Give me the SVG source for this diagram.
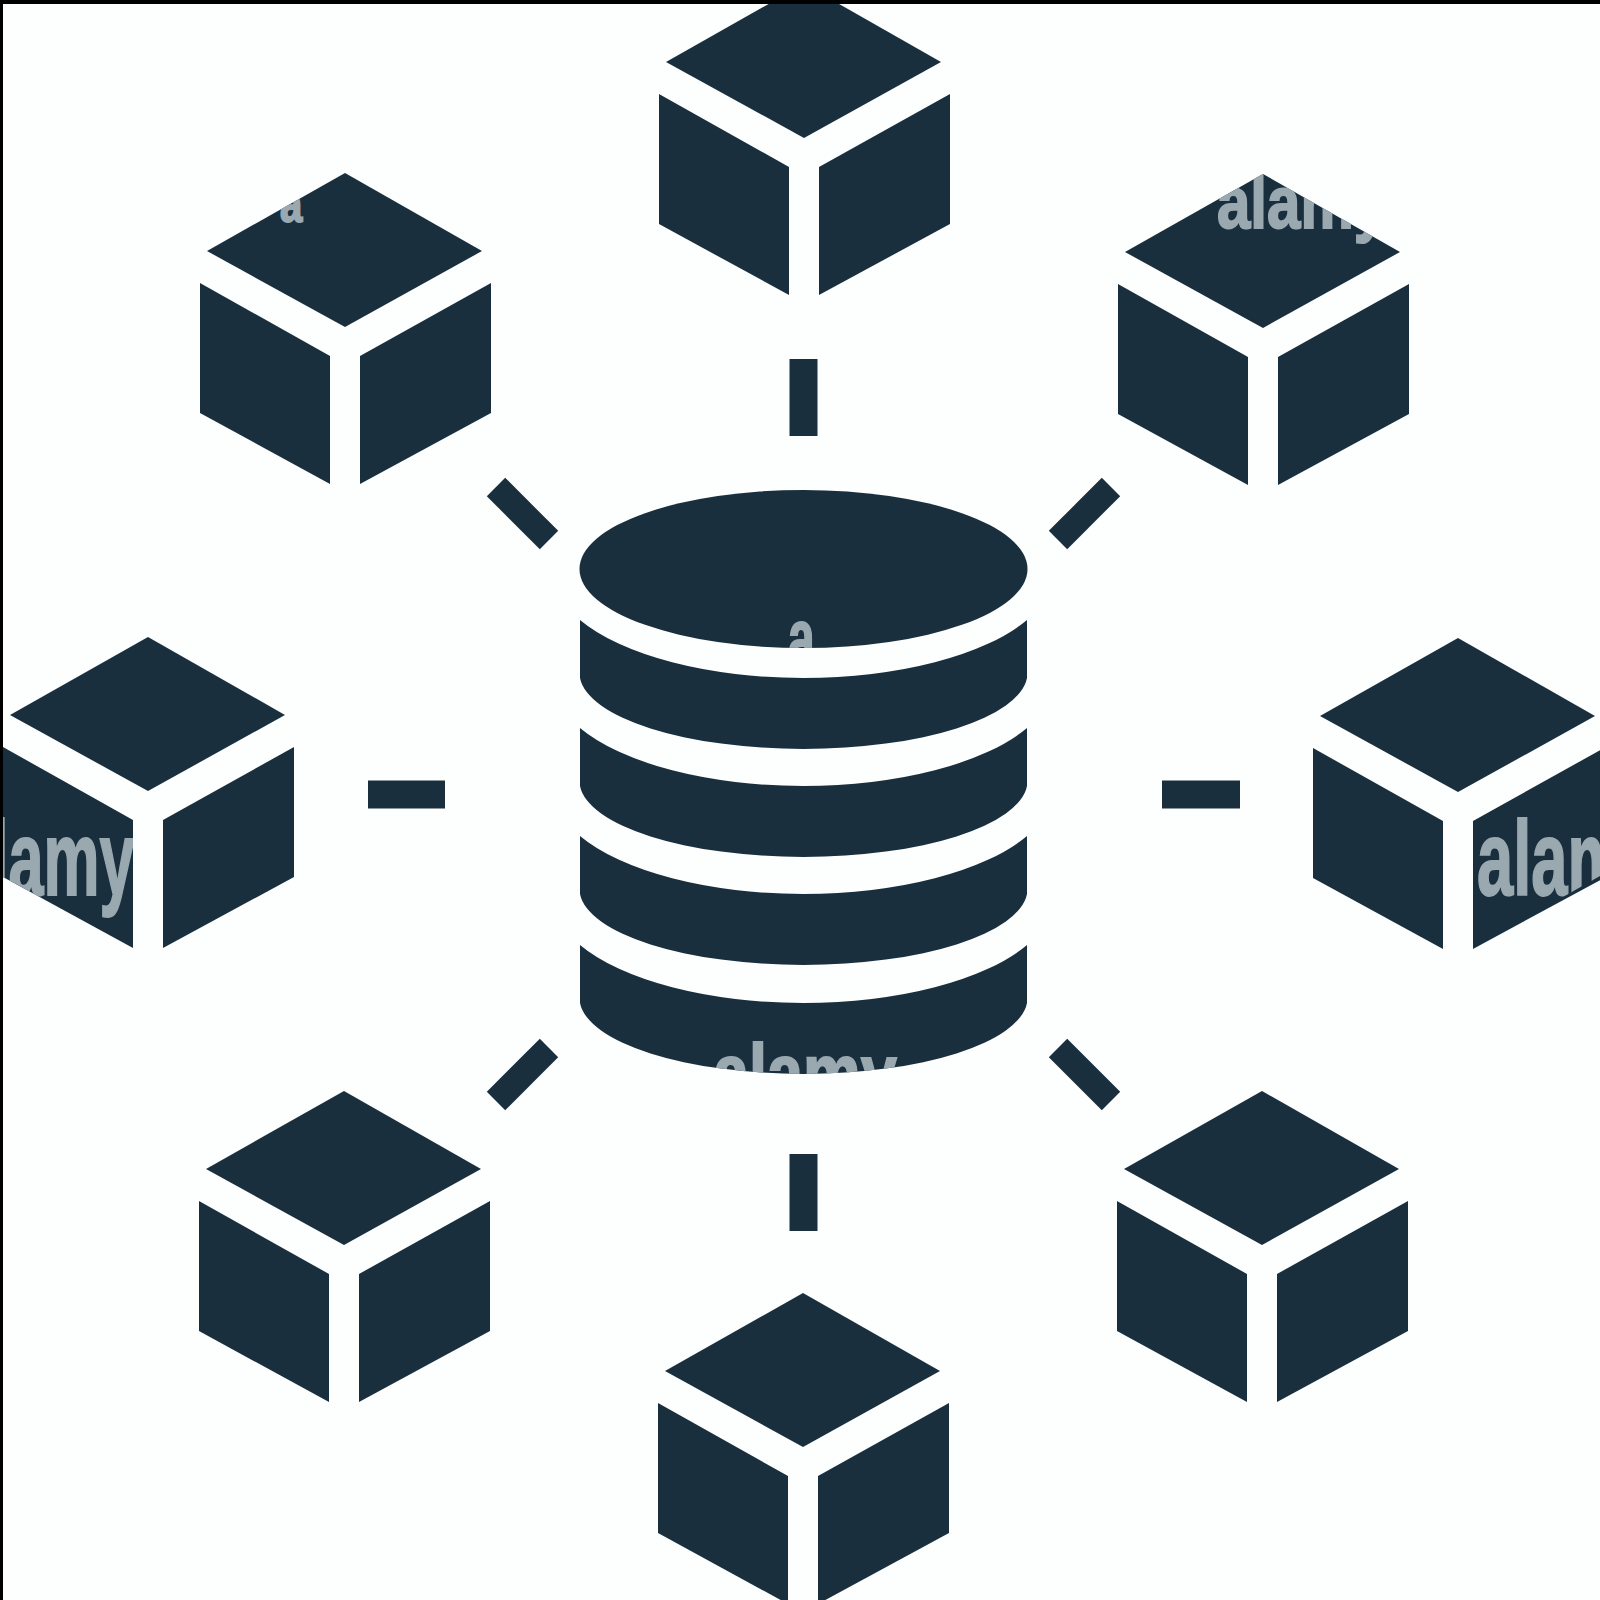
<svg xmlns="http://www.w3.org/2000/svg" width="1600" height="1600" viewBox="0 0 1600 1600">
<style>
.f{fill:#1a2f3e}
.c{stroke:#1a2f3e;stroke-width:28;fill:none}
.d{stroke-width:26}
.w{font-family:"Liberation Sans",Arial,sans-serif;font-weight:700;fill:#9aa8b0;stroke:#9aa8b0;stroke-width:2}
</style>
<defs>
<g id="cube" class="f">
<polygon points="0,0 137,78 0,154 -138,78"/>
<polygon points="-145,110 -15,183 -15,311 -145,240"/>
<polygon points="15,183 146,110 146,240 15,311"/>
</g>
<clipPath id="clipLeft"><polygon points="3,748 133,820 133,948 3,877"/></clipPath>
<clipPath id="clipRight"><polygon points="1473,820 1600,748 1600,876 1473,948"/></clipPath>
<clipPath id="clipTR"><polygon points="1263,174 1400,252 1263,328 1125,252"/></clipPath>
<clipPath id="clipTL"><polygon points="345,173 482,251 345,327 207,251"/></clipPath>
<clipPath id="clipTop"><ellipse cx="803.500" cy="569" rx="224" ry="79"/></clipPath>
<clipPath id="clipBottom"><path d="M580 945A250 105 0 0 0 1027 945V1003A224 76 0 0 1 580 1003Z"/></clipPath>
</defs>
<rect width="1600" height="1600" fill="#fdfefe"/>
<g id="connectors">
<line class="c" x1="803.500" y1="359" x2="803.500" y2="436"/>
<line class="c" x1="803.500" y1="1154" x2="803.500" y2="1231"/>
<line class="c" x1="368" y1="794.500" x2="445" y2="794.500"/>
<line class="c" x1="1162" y1="794.500" x2="1240" y2="794.500"/>
<line class="c d" x1="496" y1="487" x2="549" y2="540"/>
<line class="c d" x1="1111" y1="487" x2="1058" y2="540"/>
<line class="c d" x1="496" y1="1101" x2="549" y2="1048"/>
<line class="c d" x1="1111" y1="1101" x2="1058" y2="1048"/>
</g>
<g id="database" class="f">
<ellipse cx="803.500" cy="569" rx="224" ry="79"/>
<path d="M580 620A250 105 0 0 0 1027 620V678A224 76 0 0 1 580 678Z"/>
<path d="M580 728A250 105 0 0 0 1027 728V786A224 76 0 0 1 580 786Z"/>
<path d="M580 836A250 105 0 0 0 1027 836V894A224 76 0 0 1 580 894Z"/>
<path d="M580 945A250 105 0 0 0 1027 945V1003A224 76 0 0 1 580 1003Z"/>
</g>
<g id="cube-top"><use href="#cube" transform="translate(804,-16)"/></g>
<g id="cube-top-left"><use href="#cube" transform="translate(345,173)"/></g>
<g id="cube-top-right"><use href="#cube" transform="translate(1263,174)"/></g>
<g id="cube-left"><use href="#cube" transform="translate(148,637)"/></g>
<g id="cube-right"><use href="#cube" transform="translate(1458,638)"/></g>
<g id="cube-bottom-left"><use href="#cube" transform="translate(344,1091)"/></g>
<g id="cube-bottom-right"><use href="#cube" transform="translate(1262,1091)"/></g>
<g id="cube-bottom"><use href="#cube" transform="translate(803,1293)"/></g>
<g id="watermarks" class="w">
<g clip-path="url(#clipLeft)"><text font-size="105" transform="translate(-9,895) scale(.6,1)">lamy</text></g>
<g clip-path="url(#clipRight)"><text font-size="105" transform="translate(1477,895) scale(.62,1)">alam</text></g>
<g clip-path="url(#clipTR)"><text font-size="75" transform="translate(1217,228) scale(.8,1)">alamy</text></g>
<g clip-path="url(#clipTL)"><text font-size="50" transform="translate(280,222) scale(.8,1)">a</text></g>
<g clip-path="url(#clipTop)"><text font-size="80" transform="translate(788,665) scale(.6,1)">a</text></g>
<g clip-path="url(#clipBottom)"><text font-size="80" transform="translate(713,1100) scale(.81,1)">alamy</text></g>
</g>
<g id="border"><rect width="1600" height="4" fill="#000"/><rect width="3" height="1600" fill="#000"/></g>
</svg>
